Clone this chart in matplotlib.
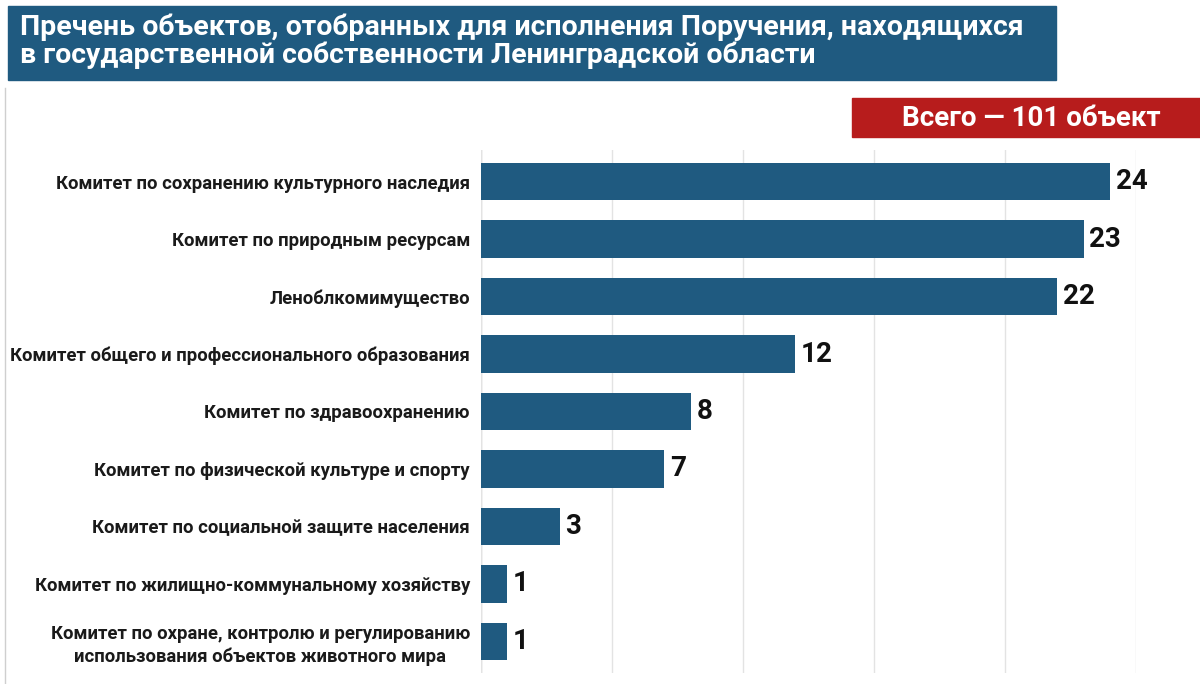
import matplotlib
matplotlib.use('Agg')
from matplotlib import pyplot as plt
from matplotlib.patches import Rectangle

plt.rcParams['font.family'] = ['Roboto', 'DejaVu Sans']

# ===== Данные =====
categories = [
    'Комитет по сохранению культурного наследия',
    'Комитет по природным ресурсам',
    'Леноблкомимущество',
    'Комитет общего и профессионального образования',
    'Комитет по здравоохранению',
    'Комитет по физической культуре и спорту',
    'Комитет по социальной защите населения',
    'Комитет по жилищно-коммунальному хозяйству',
    'Комитет по охране, контролю и регулированию\nиспользования объектов животного мира',
]
values = [24, 23, 22, 12, 8, 7, 3, 1, 1]
title_text = ('Пречень объектов, отобранных для исполнения Поручения, находящихся\n'
              'в государственной собственности Ленинградской области')
total_text = 'Всего — 101 объект'

bar_color = '#1f5a80'
W, H = 1200, 684

fig = plt.figure(figsize=(12, 6.84), dpi=100)
ax = fig.add_axes([481 / W, 1 - 673 / H, (1136 - 481) / W, (673 - 150) / H])

y = list(range(len(values)))
ax.barh(y, values, height=0.65, color=bar_color, zorder=2)
ax.set_ylim(len(values) - 0.45, -0.55)
ax.set_xlim(0, 25)
ax.set_xticks([0, 5, 10, 15, 20, 25])
ax.grid(axis='x', color='#e3e3e3', linewidth=1, zorder=0)
ax.tick_params(axis='x', length=0, labelbottom=False)
ax.tick_params(axis='y', length=0, pad=8)
ax.set_yticks(y)
ax.set_yticklabels(categories, fontsize=13.3, fontweight='bold', color='#1a1a1a',
                   ha='right', multialignment='center', linespacing=1.3)
for s in ax.spines.values():
    s.set_visible(False)
ax.axvline(0, color='#cccccc', linewidth=1, zorder=1)

for yi, v in zip(y, values):
    ax.text(v + 0.22, yi, str(v), va='center', ha='left', fontsize=20,
            fontweight='bold', color='#111111')

# ===== Заголовок =====
fig.patches.append(Rectangle((8 / W, 1 - 80 / H), (1056 - 8) / W, 74 / H,
                             transform=fig.transFigure, color='#1f5a80', zorder=0))
fig.text(20 / W, 1 - 41 / H, title_text, color='white', fontsize=20.5,
         fontweight='bold', va='center', ha='left', linespacing=1.03)

fig.patches.append(Rectangle((852 / W, 1 - 137 / H), (W - 852) / W, 39 / H,
                             transform=fig.transFigure, color='#b71c1c', zorder=0))
fig.text(1031 / W, 1 - 118 / H, total_text, color='white', fontsize=20,
         fontweight='bold', va='center', ha='center')

# рамка слева
fig.lines.append(plt.Line2D([5 / W, 5 / W], [0, 1 - 88 / H], transform=fig.transFigure,
                            color='#cfcfcf', linewidth=1))

fig.savefig('out.png', dpi=100)
